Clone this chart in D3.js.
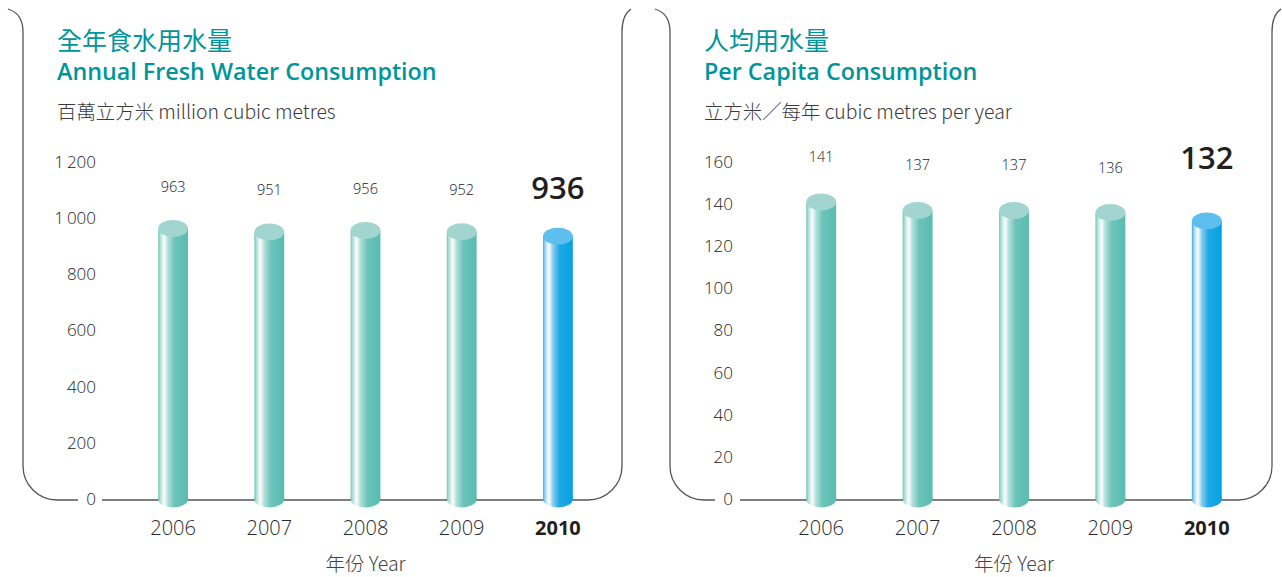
<!DOCTYPE html>
<html>
<head>
<meta charset="utf-8">
<script src="https://cdn.jsdelivr.net/npm/d3@7"></script>
<style>
  body { margin: 0; background: #fff; }
  svg { display: block; font-family: "Open Sans", "Noto Sans CJK TC", sans-serif; }
</style>
</head>
<body>
<div id="chart"></div>
<script>
// data
var years = ["2006", "2007", "2008", "2009", "2010"];
var annualUse = [963, 951, 956, 952, 936];      // million m3
var perCapita = [141, 137, 137, 136, 132];      // m3 per year
var annualTicks = [0, 200, 400, 600, 800, 1000, 1200];
var capitaTicks = [0, 20, 40, 60, 80, 100, 120, 140, 160];

var W = 1282, H = 577;
var teal = "#00959a";
var cjk = "'Noto Sans CJK TC', 'Open Sans', sans-serif";

var svg = d3.select("#chart").append("svg")
  .attr("width", W).attr("height", H);

var defs = svg.append("defs");
function cylGrad(id, c) {
  var g = defs.append("linearGradient").attr("id", id)
    .attr("x1", "0%").attr("x2", "100%").attr("y1", "0%").attr("y2", "0%");
  c.forEach(function(s) {
    g.append("stop").attr("offset", s[0]).attr("stop-color", s[1]);
  });
}
cylGrad("gTeal", [["0%", "#6fc4ba"], ["8%", "#b9e2dc"], ["20%", "#fbfefd"], ["33%", "#b3dfd9"], ["55%", "#6cc4ba"], ["100%", "#58bbb1"]]);
cylGrad("gBlue", [["0%", "#3fa9e2"], ["8%", "#a9d9f3"], ["20%", "#ffffff"], ["33%", "#8bcdf0"], ["55%", "#20a8e5"], ["100%", "#03a2e3"]]);

var fmt = d3.formatLocale({ decimal: ".", thousands: "\u2009", grouping: [3], currency: ["", ""] }).format(",");

function panel(o) {
  var g = svg.append("g");

  // frame
  g.append("path")
    .attr("d", o.frameLeft)
    .attr("fill", "none").attr("stroke", "#555").attr("stroke-width", 1.3);
  g.append("path")
    .attr("d", o.frameRight)
    .attr("fill", "none").attr("stroke", "#555").attr("stroke-width", 1.3);

  // titles
  g.append("text").attr("x", o.tx).attr("y", 50)
    .attr("fill", teal).style("font-family", cjk).style("font-size", "25px")
    .text(o.titleZh);
  g.append("text").attr("x", o.tx).attr("y", 80)
    .attr("fill", teal).style("font-size", "23.3px").style("font-weight", 600)
    .text(o.titleEn);
  g.append("text").attr("x", o.tx).attr("y", 119)
    .attr("fill", "#3a3a3a").style("font-family", cjk).style("font-size", "19.4px")
    .style("font-weight", 300)
    .text(o.unit);

  var y = d3.scaleLinear().domain([0, o.ticks[o.ticks.length - 1]]).range([499, 162]);
  var x = d3.scaleBand().domain(years).range(o.xRange).paddingInner(0.69).paddingOuter(0.345);

  // y axis labels
  var ya = g.append("g").attr("transform", "translate(" + o.axisX + ",0)")
    .call(d3.axisLeft(y).tickValues(o.ticks).tickSize(0).tickPadding(0).tickFormat(fmt));
  ya.select(".domain").remove();
  ya.selectAll("text").attr("fill", "#222").style("font-size", "17px")
    .style("font-weight", 300)
    .style("font-family", "'Open Sans', sans-serif");

  var bw = x.bandwidth(), ry = 8.5;
  var bars = g.selectAll(".bar").data(o.values).enter().append("g").attr("class", "bar");
  bars.append("ellipse")
    .attr("cx", function(d, i) { return x(years[i]) + bw / 2; })
    .attr("cy", y(0)).attr("rx", bw / 2).attr("ry", ry)
    .attr("fill", function(d, i) { return i == 4 ? "url(#gBlue)" : "url(#gTeal)"; });
  bars.append("rect")
    .attr("x", function(d, i) { return x(years[i]); })
    .attr("y", function(d) { return y(d); })
    .attr("width", bw)
    .attr("height", function(d) { return y(0) - y(d); })
    .attr("fill", function(d, i) { return i == 4 ? "url(#gBlue)" : "url(#gTeal)"; });
  bars.append("ellipse")
    .attr("cx", function(d, i) { return x(years[i]) + bw / 2; })
    .attr("cy", function(d) { return y(d); })
    .attr("rx", bw / 2).attr("ry", ry)
    .attr("fill", function(d, i) { return i == 4 ? "#5cbfee" : "#a3d5d0"; });

  // value labels
  bars.append("text")
    .attr("x", function(d, i) { return x(years[i]) + bw / 2; })
    .attr("y", function(d, i) { return y(d) - (i == 4 ? o.bigOff : o.smallOff); })
    .attr("text-anchor", "middle")
    .attr("fill", function(d, i) { return i == 4 ? "#231f20" : "#222"; })
    .style("font-size", function(d, i) { return i == 4 ? "31px" : "14.5px"; })
    .style("font-weight", function(d, i) { return i == 4 ? 600 : 300; })
    .text(function(d) { return d; });

  // x axis labels
  var xa = g.append("g").attr("transform", "translate(0,535)")
    .call(d3.axisBottom(x).tickSize(0).tickPadding(0));
  xa.select(".domain").remove();
  xa.selectAll("text").attr("fill", function(d) { return d == "2010" ? "#231f20" : "#2a2a2a"; })
    .attr("dy", 0)
    .style("font-size", "20px")
    .style("font-weight", function(d) { return d == "2010" ? 700 : 300; })
    .style("font-family", "'Open Sans', sans-serif");

  g.append("text").attr("x", (o.xRange[0] + o.xRange[1]) / 2).attr("y", 571)
    .attr("text-anchor", "middle").attr("fill", "#444")
    .style("font-family", cjk).style("font-size", "19.5px").style("font-weight", 300)
    .text("年份 Year");
}

panel({
  titleZh: "全年食水用水量",
  titleEn: "Annual Fresh Water Consumption",
  unit: "百萬立方米 million cubic metres",
  tx: 57,
  values: annualUse,
  ticks: annualTicks,
  axisX: 96,
  xRange: [125, 606],
  smallOff: 37,
  bigOff: 37,
  frameLeft: "M8,9 C18,12 23,20 23,32 L23,466 A34,34 0 0 0 57,500 L78,500",
  frameRight: "M102,500 L588,500 A34,34 0 0 0 622,466 L622,32 C622,22 625,13 631,9"
});

panel({
  titleZh: "人均用水量",
  titleEn: "Per Capita Consumption",
  unit: "立方米／每年 cubic metres per year",
  tx: 704,
  values: perCapita,
  ticks: capitaTicks,
  axisX: 733,
  xRange: [773, 1255],
  smallOff: 40,
  bigOff: 52,
  frameLeft: "M655,9 C665,12 670,20 670,32 L670,466 A34,34 0 0 0 704,500 L715,500",
  frameRight: "M740,500 L1238,500 A34,34 0 0 0 1272,466 L1272,32 C1272,22 1275,13 1281,9"
});
</script>
</body>
</html>
